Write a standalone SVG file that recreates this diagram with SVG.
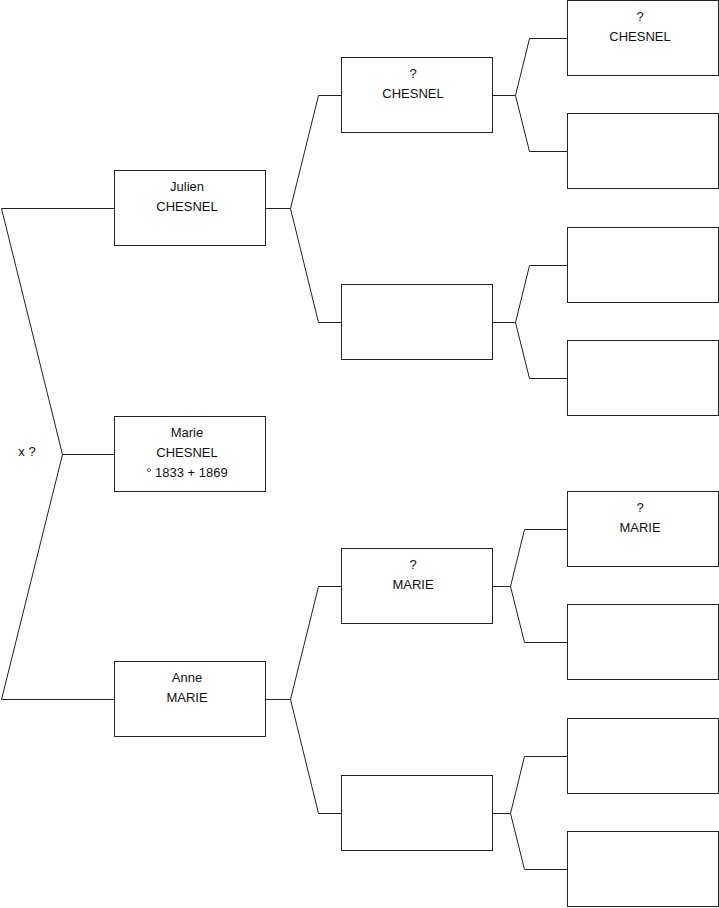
<svg xmlns="http://www.w3.org/2000/svg" width="719" height="908" viewBox="0 0 719 908">
<style>
.box{fill:#fff;stroke:#222;stroke-width:1}
.ln{fill:none;stroke:#222;stroke-width:1}
text{font-family:"Liberation Sans",Arial,sans-serif;font-size:13px;fill:#111;text-anchor:middle}
</style>
<rect width="719" height="908" fill="#fff"/>
<g id="connectors">
<path class="ln" d="M114.5,454.5 H62.5 L1.5,208.5 H114.5 M62.5,454.5 L1.5,699.5 H114.5"/>
<path class="ln" d="M265.5,208.5 H290.5 L318.5,95.5 H341.5 M290.5,208.5 L318.5,322.5 H341.5"/>
<path class="ln" d="M265.5,699.5 H290.5 L318.5,586.5 H341.5 M290.5,699.5 L318.5,813.5 H341.5"/>
<path class="ln" d="M492.5,95.5 H515.5 L529.5,38.5 H567.5 M515.5,95.5 L529.5,151.5 H567.5"/>
<path class="ln" d="M492.5,322.5 H515.5 L529.5,265.5 H567.5 M515.5,322.5 L529.5,378.5 H567.5"/>
<path class="ln" d="M492.5,586.5 H510.5 L524.5,529.5 H567.5 M510.5,586.5 L524.5,642.5 H567.5"/>
<path class="ln" d="M492.5,813.5 H510.5 L524.5,756.5 H567.5 M510.5,813.5 L524.5,869.5 H567.5"/>
</g>
<text x="27" y="456">x ?</text>
<g id="julien"><rect class="box" x="114.5" y="170.5" width="151" height="75"/><text x="187" y="191">Julien</text><text x="187" y="211">CHESNEL</text></g>
<g id="marie"><rect class="box" x="114.5" y="416.5" width="151" height="75"/><text x="187" y="437">Marie</text><text x="187" y="457">CHESNEL</text><text x="187" y="477">° 1833 + 1869</text></g>
<g id="anne"><rect class="box" x="114.5" y="661.5" width="151" height="75"/><text x="187" y="682">Anne</text><text x="187" y="702">MARIE</text></g>
<g id="g2a"><rect class="box" x="341.5" y="57.5" width="151" height="75"/><text x="413" y="78">?</text><text x="413" y="98">CHESNEL</text></g>
<g id="g2b"><rect class="box" x="341.5" y="284.5" width="151" height="75"/></g>
<g id="g2c"><rect class="box" x="341.5" y="548.5" width="151" height="75"/><text x="413" y="569">?</text><text x="413" y="589">MARIE</text></g>
<g id="g2d"><rect class="box" x="341.5" y="775.5" width="151" height="75"/></g>
<g id="g3a"><rect class="box" x="567.5" y="0.5" width="151" height="75"/><text x="640" y="21">?</text><text x="640" y="41">CHESNEL</text></g>
<g id="g3b"><rect class="box" x="567.5" y="113.5" width="151" height="75"/></g>
<g id="g3c"><rect class="box" x="567.5" y="227.5" width="151" height="75"/></g>
<g id="g3d"><rect class="box" x="567.5" y="340.5" width="151" height="75"/></g>
<g id="g3e"><rect class="box" x="567.5" y="491.5" width="151" height="75"/><text x="640" y="532" dy="-20">?</text><text x="640" y="532">MARIE</text></g>
<g id="g3f"><rect class="box" x="567.5" y="604.5" width="151" height="75"/></g>
<g id="g3g"><rect class="box" x="567.5" y="718.5" width="151" height="75"/></g>
<g id="g3h"><rect class="box" x="567.5" y="831.5" width="151" height="75"/></g>
</svg>
